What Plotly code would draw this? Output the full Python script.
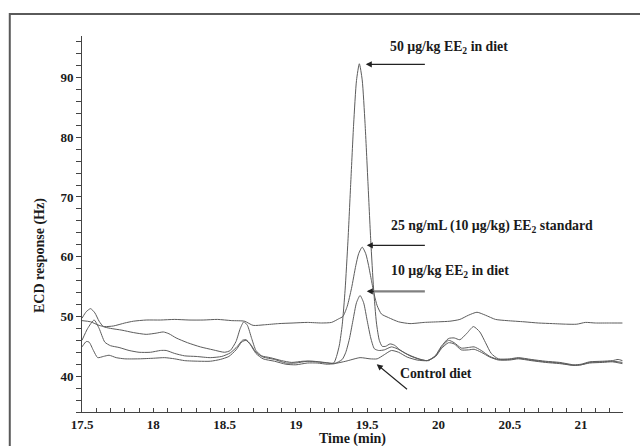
import plotly.graph_objects as go

# ---------------- data ----------------
# 25 ng/mL (10 ug/kg) EE2 standard
t_std = [17.50, 17.56, 17.62, 17.66, 17.72, 17.80, 17.86, 17.95, 18.05, 18.15, 18.25, 18.35,
         18.45, 18.55, 18.64, 18.70, 18.78, 18.88, 18.98, 19.08, 19.18, 19.25, 19.30, 19.33,
         19.36, 19.39, 19.42, 19.44, 19.465, 19.49, 19.51, 19.53, 19.55, 19.57, 19.60, 19.65,
         19.72, 19.80, 19.90, 20.00, 20.08, 20.15, 20.21, 20.27, 20.33, 20.40, 20.48, 20.60,
         20.70, 20.80, 20.90, 20.97, 21.03, 21.10, 21.20, 21.29]
v_std = [49.3, 49.1, 48.5, 48.3, 48.4, 48.9, 49.2, 49.4, 49.4, 49.5, 49.4, 49.4,
         49.5, 49.3, 49.2, 48.5, 48.6, 48.8, 48.9, 49.0, 48.9, 49.0, 49.6, 50.0,
         51.7, 54.7, 58.5, 60.5, 61.6, 60.5, 58.5, 56.0, 53.6, 51.8, 50.4, 49.8,
         49.1, 48.8, 49.0, 49.1, 49.2, 49.5, 50.2, 50.7, 50.2, 49.5, 49.3, 49.1,
         48.9, 48.8, 48.7, 48.7, 49.0, 48.9, 48.9, 48.9]

# 50 ug/kg EE2 in diet
t_50 = [17.50, 17.53, 17.56, 17.59, 17.62, 17.65, 17.70, 17.78, 17.86, 17.95, 18.02, 18.07,
        18.11, 18.16, 18.24, 18.33, 18.42, 18.50, 18.54, 18.58, 18.61, 18.635, 18.66, 18.69,
        18.72, 18.76, 18.82, 18.90, 18.97, 19.05, 19.12, 19.20, 19.265, 19.285, 19.305, 19.325,
        19.345, 19.365, 19.385, 19.405, 19.425, 19.445, 19.465, 19.485, 19.505, 19.525, 19.545,
        19.565, 19.585, 19.605, 19.63, 19.66, 19.69, 19.73, 19.80, 19.87, 19.93, 19.98, 20.02,
        20.07, 20.11, 20.15, 20.20, 20.245, 20.29, 20.33, 20.37, 20.42, 20.50, 20.56, 20.65,
        20.75, 20.85, 20.95, 21.00, 21.06, 21.15, 21.22, 21.26, 21.29]
v_50 = [49.7, 50.8, 51.3, 50.6, 49.2, 48.3, 48.0, 47.7, 47.3, 47.0, 47.2, 47.4,
        47.1, 46.4, 45.6, 44.9, 44.4, 44.0, 44.3, 45.8, 48.0, 49.1, 48.5, 46.3,
        44.3, 43.4, 43.1, 42.6, 42.3, 42.5, 42.5, 42.3, 42.2, 43.3, 45.2, 48.6,
        54.4, 62.6, 72.5, 82.2, 89.5, 92.3, 89.6, 82.3, 72.6, 62.7, 54.6,
        48.9, 46.0, 45.0, 45.0, 45.4, 45.2, 44.4, 43.4, 42.8, 42.6, 43.5, 45.0,
        46.3, 46.4, 46.1, 47.2, 48.3, 47.4, 45.6, 43.8, 42.9, 42.9, 43.1, 42.8,
        42.5, 42.3, 41.9, 42.0, 42.4, 42.5, 42.6, 42.8, 42.6]

# 10 ug/kg EE2 in diet
t_10 = [17.50, 17.54, 17.585, 17.62, 17.66, 17.70, 17.76, 17.83, 17.90, 17.98, 18.05, 18.09,
        18.15, 18.22, 18.30, 18.40, 18.48, 18.54, 18.59, 18.625, 18.65, 18.68, 18.72, 18.77,
        18.85, 18.93, 19.00, 19.08, 19.15, 19.22, 19.27, 19.325, 19.35, 19.375, 19.40, 19.425,
        19.45, 19.475, 19.50, 19.525, 19.55, 19.58, 19.62, 19.67, 19.71, 19.77, 19.85, 19.92,
        19.98, 20.02, 20.07, 20.11, 20.16, 20.21, 20.25, 20.30, 20.36, 20.42, 20.50, 20.56,
        20.65, 20.75, 20.85, 20.95, 21.00, 21.06, 21.15, 21.22, 21.29]
v_10 = [46.0, 48.0, 49.4, 48.0, 45.7, 45.1, 44.8, 44.3, 44.0, 44.0, 44.3, 44.3,
        43.8, 43.4, 43.3, 43.1, 43.3, 43.9, 45.0, 46.0, 46.1, 45.4, 44.0, 43.2,
        42.8, 42.2, 42.2, 42.5, 42.4, 42.2, 42.1, 42.8, 44.0, 46.2, 49.3, 52.3,
        53.5, 52.3, 49.3, 46.4, 44.6, 44.3, 44.4, 44.9, 44.6, 43.8, 43.0, 42.6,
        43.4, 44.8, 46.0, 45.6, 44.7, 44.8, 44.9, 44.3, 43.3, 42.8, 42.8, 43.0,
        42.7, 42.4, 42.2, 41.8, 41.9, 42.3, 42.4, 42.5, 42.3]

# Control diet
t_ctl = [17.50, 17.53, 17.55, 17.58, 17.61, 17.65, 17.69, 17.74, 17.80, 17.90, 18.00, 18.08,
         18.15, 18.22, 18.32, 18.40, 18.47, 18.53, 18.58, 18.62, 18.65, 18.68, 18.72, 18.77,
         18.85, 18.93, 19.00, 19.08, 19.15, 19.22, 19.27, 19.35, 19.45, 19.52, 19.57, 19.62,
         19.67, 19.72, 19.78, 19.85, 19.92, 19.98, 20.02, 20.07, 20.11, 20.16, 20.21, 20.25,
         20.30, 20.36, 20.42, 20.50, 20.56, 20.65, 20.75, 20.85, 20.95, 21.00, 21.06, 21.15,
         21.22, 21.29]
v_ctl = [44.9, 45.8, 45.7, 44.3, 43.1, 43.3, 43.5, 43.1, 42.9, 42.9, 43.0, 43.1,
         42.9, 42.6, 42.5, 42.5, 42.8, 43.3, 44.4, 45.7, 46.0, 45.3, 43.8, 42.9,
         42.5, 42.0, 41.9, 42.2, 42.2, 42.0, 42.1, 42.5, 43.1, 42.9, 42.9, 43.6,
         44.3, 44.0, 43.2, 42.7, 42.6, 43.3, 44.6, 45.6, 45.4, 44.4, 44.4, 44.5,
         44.0, 43.2, 42.7, 42.7, 42.9, 42.6, 42.3, 42.1, 41.8, 41.9, 42.2, 42.3,
         42.4, 42.1]

x_range = [17.5, 21.294]
y_range = [34.0, 96.95]
x_major = [17.5, 18, 18.5, 19, 19.5, 20, 20.5, 21]
x_labels = ["17.5", "18", "18.5", "19", "19.5", "20", "20.5", "21"]
y_major = [40, 50, 60, 70, 80, 90]
y_labels = ["40", "50", "60", "70", "80", "90"]

# annotation labels: (text, x, y) and arrows (head x, head y, tail x, tail y)
label_text = ["50 µg/kg EE<sub>2</sub> in diet",
              "25 ng/mL (10 µg/kg) EE<sub>2</sub> standard",
              "10 µg/kg EE<sub>2</sub> in diet",
              "Control diet"]
label_x = [19.647, 19.65, 19.65, 19.715]
label_y = [95.1, 65.0, 57.5, 40.45]
arrow_hx = [19.49, 19.497, 19.497, 19.567]
arrow_hy = [92.2, 61.9, 54.2, 42.0]
arrow_tx = [19.915, 19.915, 19.915, 19.79]
arrow_ty = [92.2, 61.9, 54.2, 37.6]
arrow_col = ["#222222", "#222222", "#808080", "#222222"]
arrow_w = [1.1, 1.1, 2.2, 1.1]

FONT = "Liberation Serif, Times New Roman, serif"
LINE = "#5c5c5c"

fig = go.Figure()
for tx, vy, nm in [(t_std, v_std, "25 ng/mL standard"), (t_50, v_50, "50 µg/kg diet"),
                   (t_10, v_10, "10 µg/kg diet"), (t_ctl, v_ctl, "Control diet")]:
    fig.add_trace(go.Scatter(x=tx, y=vy, mode="lines", name=nm,
                             line=dict(color=LINE, width=1, shape="spline", smoothing=0.6),
                             hoverinfo="x+y+name"))

anns = []
for i in range(4):
    if arrow_w[i] > 1.5:
        # thick grey shaft without head, then a thin dark head on top
        anns.append(dict(x=arrow_hx[i] + 0.03, y=arrow_hy[i], xref="x", yref="y",
                         ax=arrow_tx[i], ay=arrow_ty[i], axref="x", ayref="y",
                         text="", showarrow=True, arrowhead=0,
                         arrowwidth=arrow_w[i], arrowcolor=arrow_col[i], standoff=0))
        anns.append(dict(x=arrow_hx[i], y=arrow_hy[i], xref="x", yref="y",
                         ax=arrow_hx[i] + 0.06, ay=arrow_ty[i], axref="x", ayref="y",
                         text="", showarrow=True, arrowhead=2, arrowsize=1.1,
                         arrowwidth=1.1, arrowcolor="#222222", standoff=0))
    else:
        anns.append(dict(x=arrow_hx[i], y=arrow_hy[i], xref="x", yref="y",
                         ax=arrow_tx[i], ay=arrow_ty[i], axref="x", ayref="y",
                         text="", showarrow=True, arrowhead=2, arrowsize=1.1,
                         arrowwidth=arrow_w[i], arrowcolor=arrow_col[i], standoff=0))
    anns.append(dict(x=label_x[i], y=label_y[i], xref="x", yref="y", text=label_text[i],
                     showarrow=False, xanchor="left", yanchor="middle",
                     font=dict(family=FONT, size=13.8, color="#1a1a1a", weight="bold")))
# axis titles
anns.append(dict(x=-0.0776, y=0.415, xref="paper", yref="paper", text="ECD response (Hz)",
                 textangle=-90, showarrow=False, xanchor="center", yanchor="middle",
                 font=dict(family=FONT, size=14, color="#1a1a1a", weight="bold")))
anns.append(dict(x=0.5, y=-0.071, xref="paper", yref="paper", text="Time (min)",
                 showarrow=False, xanchor="center", yanchor="middle",
                 font=dict(family=FONT, size=14, color="#1a1a1a", weight="bold")))

fig.update_layout(
    width=640, height=446,
    margin=dict(l=82, r=17, t=36, b=34),
    paper_bgcolor="white", plot_bgcolor="white",
    showlegend=False,
    annotations=anns,
    shapes=[dict(type="rect", xref="paper", yref="paper",
                 x0=-0.1335, x1=1.3, y0=-0.3, y1=1.0585,
                 line=dict(color="#5a5a5a", width=2), fillcolor="rgba(0,0,0,0)", layer="below")],
    font=dict(family=FONT, color="#1a1a1a"),
)
fig.update_xaxes(range=x_range, showgrid=False, zeroline=False,
                 showline=True, linecolor="#444", linewidth=1,
                 tickmode="array", tickvals=x_major, ticktext=x_labels,
                 ticks="inside", ticklen=4, tickcolor="#444", tickwidth=1,
                 tickfont=dict(family=FONT, size=13, color="#1a1a1a", weight="bold"),
                 minor=dict(dtick=0.1, tick0=17.5, ticks="inside", ticklen=4,
                            tickcolor="#444", tickwidth=1, showgrid=False))
fig.update_yaxes(range=y_range, showgrid=False, zeroline=False,
                 showline=True, linecolor="#444", linewidth=1,
                 tickmode="array", tickvals=y_major, ticktext=y_labels,
                 ticks="outside", ticklen=5, tickcolor="#444", tickwidth=1,
                 tickfont=dict(family=FONT, size=13, color="#1a1a1a", weight="bold"),
                 minor=dict(dtick=2, tick0=34, ticks="outside", ticklen=5,
                            tickcolor="#444", tickwidth=1, showgrid=False))

fig.write_html("out.html", config={"displayModeBar": False},
               post_script="document.body.style.margin='0';document.body.style.overflow='hidden';")
